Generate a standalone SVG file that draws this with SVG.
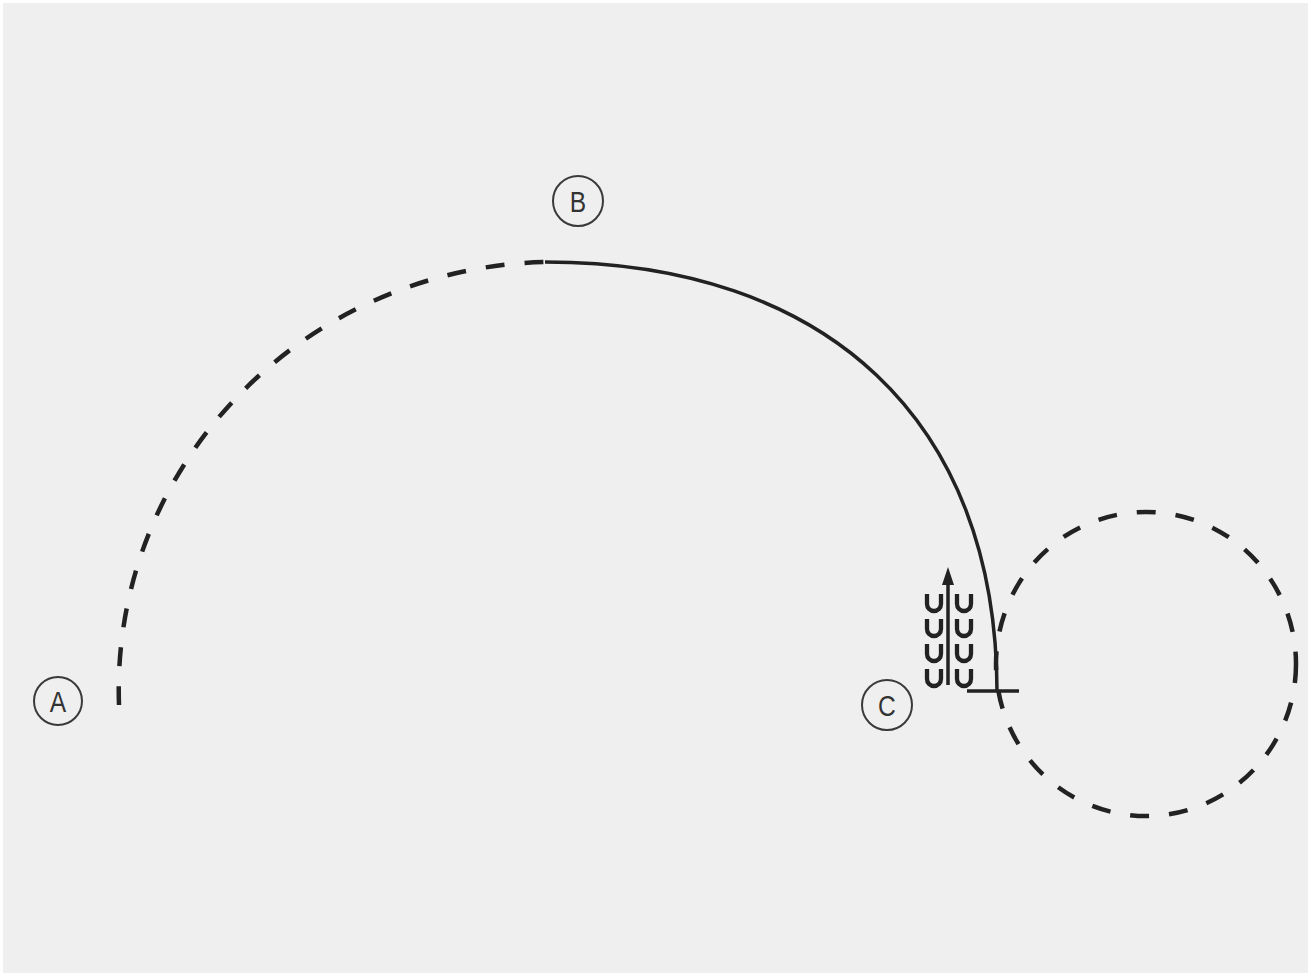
<svg xmlns="http://www.w3.org/2000/svg" width="1312" height="978" viewBox="0 0 1312 978">
  <style>
    .lbl circle { fill: none; stroke: #3a3a3a; stroke-width: 2; }
    .lbl text { font-family: "Liberation Sans", "DejaVu Sans", sans-serif; font-size: 30px; fill: #333; text-anchor: middle; }
    .dash { fill: none; stroke: #222; stroke-width: 4.5; stroke-dasharray: 19 20; }
    .solid { fill: none; stroke: #222; stroke-width: 3.5; }
    .u { fill: none; stroke: #222; stroke-width: 4.3; }
  </style>
  <defs>
    <path id="U" d="M0 0 V10 A7 7 0 0 0 14 10 V0"/>
  </defs>
  <rect x="0" y="0" width="1312" height="978" fill="#ffffff"/>
  <rect x="3" y="3" width="1305" height="970" fill="#efefef"/>

  <g id="connectors">
    <path class="dash" d="M119 705 A437 428 0 0 1 545 262"/>
    <path class="solid" d="M545 262 C826 262 997 420 997 692"/>
    <ellipse class="dash" cx="1146" cy="664" rx="150" ry="152" stroke-dasharray="20 24"/>
    <line class="solid" x1="967" y1="691" x2="1019" y2="691"/>
  </g>

  <g id="stack">
    <g class="u">
      <use href="#U" x="927" y="594"/>
      <use href="#U" x="927" y="619"/>
      <use href="#U" x="927" y="644"/>
      <use href="#U" x="927" y="669"/>
      <use href="#U" x="957" y="594"/>
      <use href="#U" x="957" y="619"/>
      <use href="#U" x="957" y="644"/>
      <use href="#U" x="957" y="669"/>
    </g>
    <line x1="948" y1="685" x2="948" y2="582" stroke="#222" stroke-width="3.5"/>
    <polygon points="948,567 942,585 954,585" fill="#222"/>
  </g>

  <g id="nodeA" class="lbl">
    <circle cx="58" cy="701" r="24"/>
    <text transform="translate(58 712) scale(0.82 1)">A</text>
  </g>
  <g id="nodeB" class="lbl">
    <circle cx="578" cy="201" r="25"/>
    <text transform="translate(578 212) scale(0.82 1)">B</text>
  </g>
  <g id="nodeC" class="lbl">
    <circle cx="887" cy="705" r="25"/>
    <text transform="translate(887 716) scale(0.82 1)">C</text>
  </g>
</svg>
